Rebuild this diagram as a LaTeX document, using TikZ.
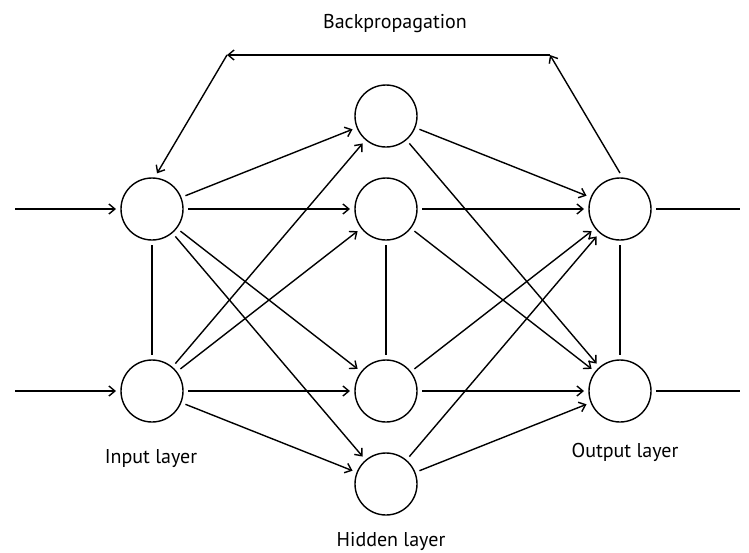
\documentclass[tikz,border=0pt]{standalone}
\usepackage{fontspec}
\setmainfont{PT Sans}
\usetikzlibrary{arrows.meta}
\begin{document}
\begin{tikzpicture}[x=1pt,y=-1pt,
  neuron/.style={circle,draw,line width=1.4pt,minimum size=62pt,inner sep=0pt,outer sep=5pt},
  conn/.style={line width=1.4pt},
  arr/.style={conn,-{Straight Barb[length=6pt,width=10pt,line width=1.4pt]}},
  lbl/.style={anchor=base,inner sep=0pt,font=\fontsize{20}{24}\selectfont}]
\useasboundingbox (0,0) rectangle (749,552);
% neurons
\node[neuron] (i1) at (152,209) {};
\node[neuron] (i2) at (152,391) {};
\node[neuron] (h1) at (386,116) {};
\node[neuron] (h2) at (386,209) {};
\node[neuron] (h3) at (386,391) {};
\node[neuron] (h4) at (386,484) {};
\node[neuron] (o1) at (620,209) {};
\node[neuron] (o2) at (620,391) {};
% free ends
\coordinate (in1) at (15,209);
\coordinate (in2) at (15,391);
\coordinate (out1) at (740,209);
\coordinate (out2) at (740,391);
\coordinate (c1) at (550,55);
\coordinate (c2) at (227,55);
% labels
\node[lbl] (tb) at (395,28) {Backpropagation};
\node[lbl] (ti) at (151,463) {Input layer};
\node[lbl] (th) at (391,546) {Hidden layer};
\node[lbl] (to) at (625,457) {Output layer};
% inputs and outputs
\draw[arr] (in1) -- (i1);
\draw[arr] (in2) -- (i2);
\draw[conn] (o1) -- (out1);
\draw[conn] (o2) -- (out2);
% vertical links
\draw[conn] (i1) -- (i2);
\draw[conn] (h2) -- (h3);
\draw[conn] (o1) -- (o2);
% forward connections
\foreach \s in {i1,i2}
  \foreach \t in {h1,h2,h3,h4}
    \draw[arr] (\s) -- (\t);
\foreach \s in {h1,h2,h3,h4}
  \foreach \t in {o1,o2}
    \draw[arr] (\s) -- (\t);
% backpropagation
\draw[arr] (o1.north) -- (c1);
\draw[arr] (c1) -- (c2);
\draw[arr] (c2) -- (i1.82);
\end{tikzpicture}
\end{document}
